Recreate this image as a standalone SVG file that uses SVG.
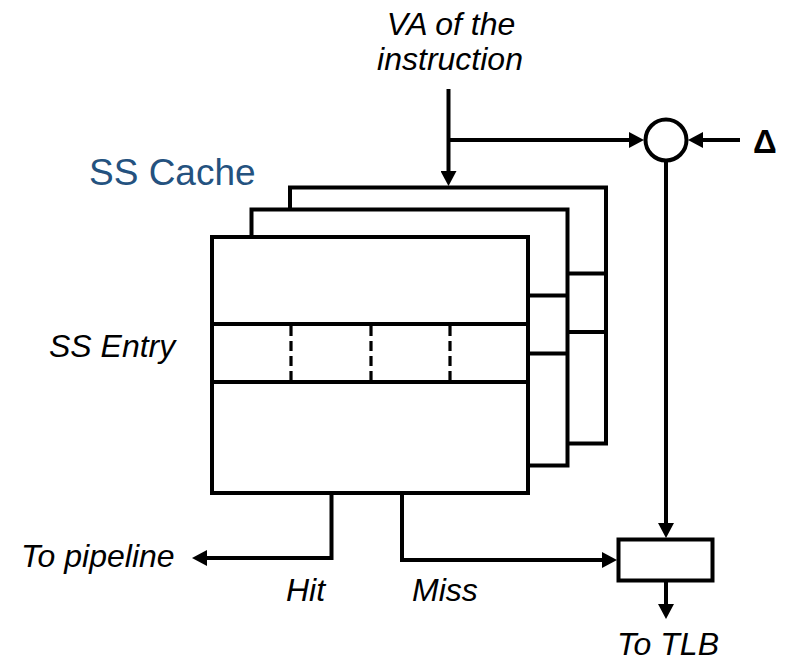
<svg xmlns="http://www.w3.org/2000/svg" width="788" height="662" viewBox="0 0 788 662">
<style>
.card{fill:#fff;stroke:#000;stroke-width:4}
.row{stroke:#000;stroke-width:4}
.dash{stroke:#000;stroke-width:3.2;stroke-dasharray:10 5}
.conn{fill:none;stroke:#000;stroke-width:4}
.lbl{font-family:"Liberation Sans",Arial,sans-serif;font-style:italic;font-size:32px;fill:#000}
.title{font-family:"Liberation Sans",Arial,sans-serif;font-size:37px;fill:#24527f}
.delta{font-family:"Liberation Sans",Arial,sans-serif;font-weight:bold;font-size:33px;fill:#000}
</style>
<defs>
<marker id="arr" markerUnits="userSpaceOnUse" markerWidth="15" markerHeight="16" refX="9" refY="8" orient="auto">
<path d="M0,0 L15,8 L0,16 z" fill="#000"/>
</marker>
</defs>
<rect width="788" height="662" fill="#fff"/>
<g id="ss-cache">
<g id="card-back">
<rect class="card" x="290" y="187.5" width="316" height="256"/>
<line class="row" x1="290" y1="273.5" x2="606" y2="273.5"/>
<line class="row" x1="290" y1="332" x2="606" y2="332"/>
</g>
<g id="card-middle">
<rect class="card" x="251.5" y="209.5" width="316" height="256"/>
<line class="row" x1="251.5" y1="295.5" x2="567.5" y2="295.5"/>
<line class="row" x1="251.5" y1="353.5" x2="567.5" y2="353.5"/>
</g>
<g id="card-front">
<rect class="card" x="212" y="237" width="316" height="256"/>
<line class="row" x1="212" y1="324" x2="528" y2="324"/>
<line class="row" x1="212" y1="382" x2="528" y2="382"/>
<line class="dash" x1="291" y1="326" x2="291" y2="380"/>
<line class="dash" x1="371" y1="326" x2="371" y2="380"/>
<line class="dash" x1="450" y1="326" x2="450" y2="380"/>
</g>
</g>
<g id="adder">
<circle cx="666" cy="140" r="20.5" fill="#fff" stroke="#000" stroke-width="4"/>
</g>
<g id="tlb-reg">
<rect x="618.5" y="539.5" width="94" height="41" fill="#fff" stroke="#000" stroke-width="4"/>
</g>
<g id="connectors">
<line class="conn" x1="448.5" y1="89" x2="448.5" y2="180" marker-end="url(#arr)"/>
<line class="conn" x1="448.5" y1="140" x2="638" y2="140" marker-end="url(#arr)"/>
<line class="conn" x1="740" y1="140" x2="694" y2="140" marker-end="url(#arr)"/>
<line class="conn" x1="666" y1="160.5" x2="666" y2="532" marker-end="url(#arr)"/>
<path class="conn" d="M331.5,493 V558 H198" marker-end="url(#arr)"/>
<path class="conn" d="M402,493 V560 H611" marker-end="url(#arr)"/>
<line class="conn" x1="666" y1="580" x2="666" y2="613" marker-end="url(#arr)"/>
</g>
<g id="labels">
<text class="lbl" x="451" y="35" text-anchor="middle">VA of the</text>
<text class="lbl" x="450" y="70" text-anchor="middle">instruction</text>
<text class="title" x="89" y="185">SS Cache</text>
<text class="lbl" x="49" y="357">SS Entry</text>
<text class="lbl" x="21" y="567">To pipeline</text>
<text class="lbl" x="286" y="601">Hit</text>
<text class="lbl" x="412" y="601">Miss</text>
<text class="lbl" x="617" y="655">To TLB</text>
<text class="delta" x="753" y="153">Δ</text>
</g>
</svg>
